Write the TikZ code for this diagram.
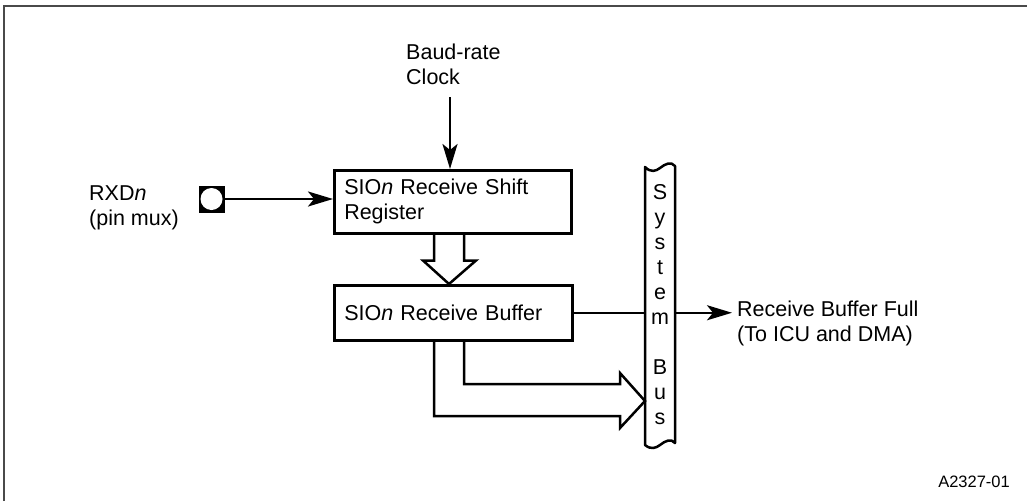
\documentclass[tikz,border=0pt]{standalone}
\usepackage{fontspec}
\setmainfont{Liberation Sans}
\usetikzlibrary{arrows.meta,calc}
\definecolor{framegray}{HTML}{4A4A4A}
\tikzset{
  lbl/.style={font=\fontsize{21.5}{25}\selectfont, inner sep=0pt},
  blk/.style={draw, line width=2.5pt, rectangle, inner sep=0pt, font=\fontsize{21.5}{25}\selectfont},
  wire/.style={line width=2.5pt},
  sig/.style={line width=2.5pt, -{Stealth[length=25pt,width=15pt,inset=6pt]}},
  hollow/.style={line width=2.5pt, line join=miter},
}
\begin{document}
\begin{tikzpicture}[x=1pt,y=-1pt]
\useasboundingbox (0,0) rectangle (1027,501);
% frame
\draw[framegray, line width=2pt] (4,501) -- (4,6) -- (1027,6);

% blocks
\node[blk, anchor=north west, minimum width=237, minimum height=63,
      text width=217, align=left] (shift) at (333,169)
      {SIO\textit{n} Receive Shift\\Register};
\node[blk, anchor=north west, minimum width=238, minimum height=55,
      text width=218, align=left] (buf) at (333,284)
      {SIO\textit{n} Receive Buffer};

% baud-rate clock
\node[lbl, align=left, anchor=west] (baud) at (406,64.5) {Baud-rate\\Clock};
\coordinate (clk) at (450,97);
\draw[sig] (clk) -- (clk |- shift.north);

% RXDn pin
\node[lbl, align=left, anchor=west] (rxd) at (89,208) {RXD\textit{n}\\(pin mux)};
\node[draw, fill=black, minimum width=25, minimum height=26, inner sep=0pt] (pin) at (211.5,199) {};
\node[circle, fill=white, minimum size=22, inner sep=0pt] (pinc) at (pin.center) {};
\draw[sig] (pin.east) -- (pin.east -| shift.west);

% system bus
\node[lbl, align=center, minimum width=30] (bus) at (660,305)
  {S\\y\\s\\t\\e\\m\\ \\B\\u\\s};
\draw[wire, line join=round] (645,167) .. controls (651,173) and (656,171) .. (660,168)
   .. controls (665,164) and (671,161) .. (675,166) -- (675,443)
   .. controls (671,438) and (665,441) .. (660,445)
   .. controls (656,448) and (651,450) .. (645,445) -- cycle;
\coordinate (busL) at (645,305);
\coordinate (busR) at (675,305);

% hollow arrow shift -> buffer
\draw[hollow] ($(shift.south west)+(101,0)$) -- ++(0,26) -- ++(-11,0)
   -- ($(buf.north west)+(116,0)$) -- ($(shift.south west)+(143,26)$)
   -- ($(shift.south west)+(131,26)$) -- ($(shift.south west)+(131,0)$);

% hollow arrow buffer -> bus
\draw[hollow] ($(buf.south west)+(101,0)$) |- (620,416) -- (620,428)
   -- (busL |- 0,401) -- (620,373) -- (620,384)
   -| ($(buf.south west)+(131,0)$);

% receive buffer full
\node[lbl, align=left, anchor=west] (rbf) at (737,323.5)
  {Receive Buffer Full\\(To ICU and DMA)};
\draw[wire] (buf.east) -- (buf.east -| busL);
\draw[sig] (buf.east -| busR) -- ([xshift=-5pt]buf.east -| rbf.west);

% figure id
\node[font=\fontsize{16.5}{19}\selectfont, inner sep=0pt, anchor=base east] (fid) at (1010,487) {A2327-01};
\end{tikzpicture}
\end{document}
